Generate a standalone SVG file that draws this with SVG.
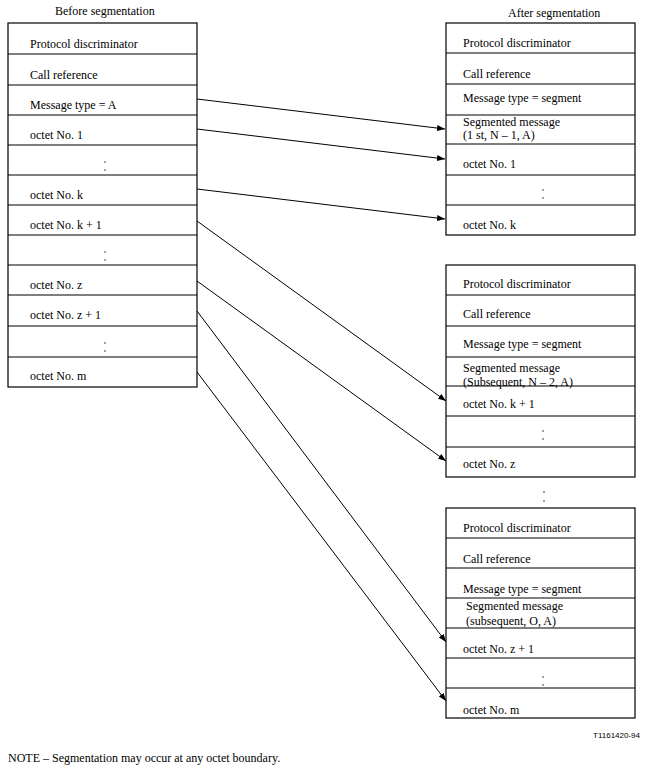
<svg xmlns="http://www.w3.org/2000/svg" width="651" height="773" viewBox="0 0 651 773">
<style>
text{font-family:"Liberation Serif","Times New Roman",serif;font-size:12px;fill:#000}
.box{fill:#fff;stroke:#000;stroke-width:1.2}
.sep{stroke:#000;stroke-width:1.2}
.con{stroke:#000;stroke-width:1;fill:none;marker-end:url(#ah)}
.small{font-family:"Liberation Sans",Arial,sans-serif;font-size:8px}
.dot{fill:#000}
</style>
<defs>
<marker id="ah" markerUnits="userSpaceOnUse" markerWidth="8" markerHeight="6" refX="8" refY="3" orient="auto">
<path d="M0,0 L8,3 L0,6 Z" fill="#000"/>
</marker>
</defs>
<rect width="651" height="773" fill="#fff"/>
<text x="55" y="15">Before segmentation</text>
<text x="508" y="17">After segmentation</text>

<g id="before">
<rect class="box" x="8" y="23" width="189" height="364"/>
<path class="sep" d="M8,54H197M8,85H197M8,115H197M8,145H197M8,175H197M8,205H197M8,235H197M8,265H197M8,295H197M8,326H197M8,357H197"/>
<text x="30" y="48">Protocol discriminator</text>
<text x="30" y="79">Call reference</text>
<text x="30" y="109">Message type = A</text>
<text x="30" y="139">octet No. 1</text>
<circle class="dot" cx="105" cy="162" r="0.7"/><circle class="dot" cx="105" cy="170" r="0.7"/>
<text x="30" y="199">octet No. k</text>
<text x="30" y="229">octet No. k + 1</text>
<circle class="dot" cx="105" cy="252" r="0.7"/><circle class="dot" cx="105" cy="260" r="0.7"/>
<text x="30" y="289">octet No. z</text>
<text x="30" y="319">octet No. z + 1</text>
<circle class="dot" cx="105" cy="343" r="0.7"/><circle class="dot" cx="105" cy="351" r="0.7"/>
<text x="30" y="380">octet No. m</text>
</g>

<g id="after1">
<rect class="box" x="446" y="23" width="189" height="212"/>
<path class="sep" d="M446,53H635M446,84H635M446,115H635M446,144H635M446,175H635M446,205H635"/>
<text x="463" y="47">Protocol discriminator</text>
<text x="463" y="78">Call reference</text>
<text x="463" y="102">Message type = segment</text>
<text x="463" y="126">Segmented message</text>
<text x="463" y="139">(1 st, N – 1, A)</text>
<text x="463" y="168">octet No. 1</text>
<circle class="dot" cx="543" cy="190" r="0.7"/><circle class="dot" cx="543" cy="198" r="0.7"/>
<text x="463" y="229">octet No. k</text>
</g>

<g id="after2">
<rect class="box" x="446" y="265" width="189" height="212"/>
<path class="sep" d="M446,295H635M446,326H635M446,357H635M446,386H635M446,416H635M446,447H635"/>
<text x="463" y="288">Protocol discriminator</text>
<text x="463" y="318">Call reference</text>
<text x="463" y="348">Message type = segment</text>
<text x="463" y="372">Segmented message</text>
<text x="463" y="386">(Subsequent, N – 2, A)</text>
<text x="463" y="408">octet No. k + 1</text>
<circle class="dot" cx="543" cy="431" r="0.7"/><circle class="dot" cx="543" cy="439" r="0.7"/>
<text x="463" y="468">octet No. z</text>
</g>

<circle class="dot" cx="544" cy="492" r="0.7"/><circle class="dot" cx="544" cy="501" r="0.7"/>

<g id="after3">
<rect class="box" x="446" y="508" width="189" height="210"/>
<path class="sep" d="M446,538H635M446,568H635M446,598H635M446,628H635M446,658H635M446,688H635"/>
<text x="463" y="532">Protocol discriminator</text>
<text x="463" y="563">Call reference</text>
<text x="463" y="593">Message type = segment</text>
<text x="466" y="610">Segmented message</text>
<text x="466" y="625">(subsequent, O, A)</text>
<text x="463" y="653">octet No. z + 1</text>
<circle class="dot" cx="543" cy="677" r="0.7"/><circle class="dot" cx="543" cy="685" r="0.7"/>
<text x="463" y="714">octet No. m</text>
</g>

<g id="connectors">
<line class="con" x1="197" y1="99" x2="445" y2="129"/>
<line class="con" x1="197" y1="129" x2="445" y2="159"/>
<line class="con" x1="197" y1="189" x2="445" y2="219"/>
<line class="con" x1="197" y1="221" x2="446" y2="401"/>
<line class="con" x1="197" y1="281" x2="446" y2="461"/>
<line class="con" x1="197" y1="311" x2="446" y2="642"/>
<line class="con" x1="197" y1="372" x2="446" y2="701"/>
</g>

<text class="small" x="593" y="738">T1161420-94</text>
<text x="8" y="762">NOTE – Segmentation may occur at any octet boundary.</text>
</svg>
